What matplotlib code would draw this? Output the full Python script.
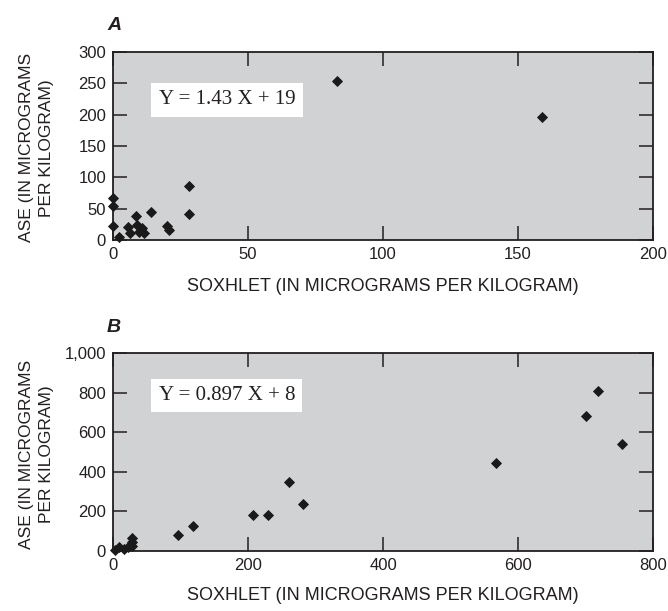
import matplotlib
matplotlib.use("Agg")
import matplotlib.pyplot as plt
from matplotlib.ticker import FuncFormatter

plt.rcParams['font.family'] = ['Liberation Sans Narrow', 'Liberation Sans', 'DejaVu Sans']

# Panel A data
a_soxhlet = [83, 159, 28, 28, 0, 0, 0, 2.2, 8.4, 14, 5.4, 6.3, 8.8, 10.6, 11.6, 9.5, 19.9, 20.7]
a_ase     = [254, 197, 86, 42, 67, 54, 23, 4, 39, 45, 21, 11, 24, 19, 11, 13, 23, 16]
# Panel B data
b_soxhlet = [719, 701, 754, 567, 261, 282, 207, 230, 118, 96, 28, 28, 28, 9, 3, 17, 22]
b_ase     = [808, 680, 540, 445, 351, 235, 180, 180, 127, 83, 68, 45, 24, 22, 5, 12, 20]

a_eq = "Y = 1.43 X + 19"
b_eq = "Y = 0.897 X + 8"
xlabel = "SOXHLET (IN MICROGRAMS PER KILOGRAM)"
ylabel = "ASE (IN MICROGRAMS\nPER KILOGRAM)"

fig = plt.figure(figsize=(6.68, 6.11), dpi=100)
W, H = 668, 611
LEFT, RIGHT = 113, 653

def make_ax(top, bottom):
    return fig.add_axes([LEFT / W, 1 - bottom / H, (RIGHT - LEFT) / W, (bottom - top) / H])

axA = make_ax(52, 240)
axB = make_ax(353, 551)

def style(ax, xlim, ylim, xticks, yticks, xlab_y, fmt=None):
    ax.set_facecolor('#d1d2d4')
    ax.set_xlim(*xlim)
    ax.set_ylim(*ylim)
    ax.set_xticks(xticks)
    ax.set_yticks(yticks)
    ax.tick_params(direction='in', length=10, width=1.1, top=True, right=True,
                   labelsize=12, colors='#231f20', pad=5)
    for s in ax.spines.values():
        s.set_linewidth(1.3)
        s.set_color('#231f20')
    if fmt:
        ax.yaxis.set_major_formatter(fmt)
    ax.set_xlabel(xlabel, fontsize=13, color='#231f20', va='center')
    ax.xaxis.set_label_coords(0.5, xlab_y)
    ax.set_ylabel(ylabel, fontsize=12.5, color='#231f20', linespacing=1.4,
                  va='center', ha='center')
    ax.yaxis.set_label_coords((36.5 - LEFT) / (RIGHT - LEFT), 0.49)

style(axA, (0, 200), (0, 300), [0, 50, 100, 150, 200], [0, 50, 100, 150, 200, 250, 300], -0.25)
style(axB, (0, 800), (0, 1000), [0, 200, 400, 600, 800], [0, 200, 400, 600, 800, 1000], -0.225,
      FuncFormatter(lambda v, p: f"{int(v):,}"))

for ax, xs, ys in [(axA, a_soxhlet, a_ase), (axB, b_soxhlet, b_ase)]:
    ax.plot(xs, ys, linestyle='none', marker='D', markersize=5.2, markeredgewidth=0.6,
            color='#1a1a1a', clip_on=False, zorder=5)

for ax, eq, yc in [(axA, a_eq, 0.745), (axB, b_eq, 0.785)]:
    ax.text(0.211, yc, eq, transform=ax.transAxes, ha='center', va='center',
            fontsize=15, family=['Liberation Serif', 'DejaVu Serif'], color='#231f20',
            bbox=dict(facecolor='white', edgecolor='none', boxstyle='square,pad=0.35'))

fig.text(107 / W, 1 - 26 / H, 'A', fontsize=14, fontweight='bold', fontstyle='italic',
         ha='left', va='center', color='#231f20')
fig.text(107 / W, 1 - 328 / H, 'B', fontsize=14, fontweight='bold', fontstyle='italic',
         ha='left', va='center', color='#231f20')

fig.savefig('out.png', dpi=100)
